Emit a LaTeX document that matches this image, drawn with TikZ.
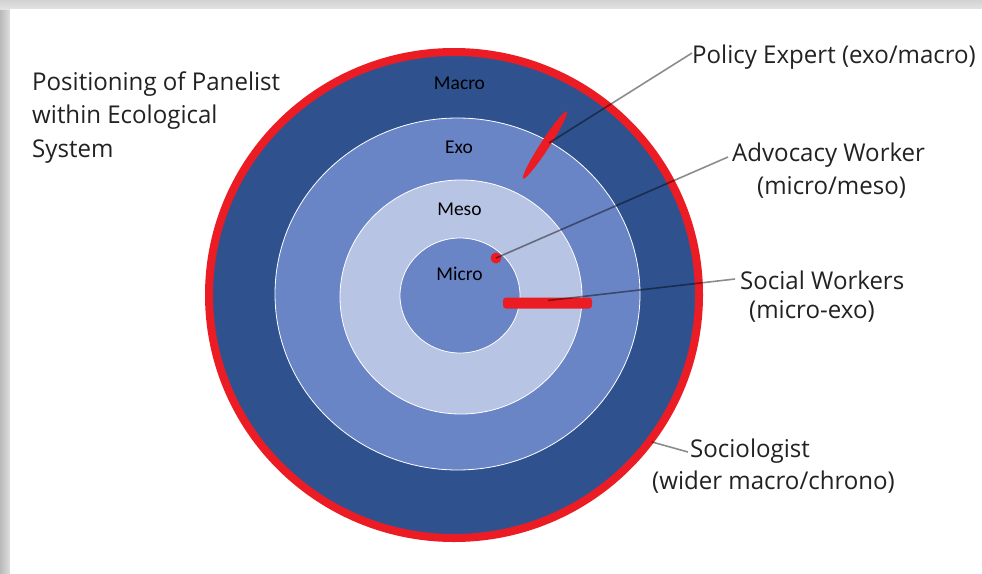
\documentclass[tikz,border=0pt]{standalone}
\usepackage{fontspec}
\newfontfamily\labfont[FakeStretch=0.982]{Open Sans}
\newfontfamily\ringfont{Carlito}
\usetikzlibrary{calc}
\definecolor{macroc}{HTML}{2F528F}
\definecolor{exoc}{HTML}{6A85C6}
\definecolor{mesoc}{HTML}{B8C4E3}
\definecolor{redc}{HTML}{EC1C24}
\definecolor{txtc}{HTML}{222222}
\tikzset{
  lab/.style={font=\labfont\fontsize{24.5}{29}\selectfont, text=txtc, inner sep=0pt, anchor=base west},
  ringlab/.style={font=\ringfont\fontsize{19.5}{22}\selectfont, text=black, inner sep=0pt, anchor=base},
  ring/.style={draw=white, line width=0.8pt},
  conn/.style={draw=black, draw opacity=0.45, line width=1.6pt},
  marker/.style={fill=redc},
}
\begin{document}
\begin{tikzpicture}[x=1pt,y=-1pt]
\useasboundingbox (0,0) rectangle (982,573);
% card with shadow
\shade[left color=gray!55, right color=gray!25] (0,0) rectangle (10,573);
\shade[top color=gray!35, bottom color=gray!22] (0,0) rectangle (982,9);
\fill[white] (10,9) rectangle (982,573);
% rings
\fill[macroc] (454,295) ellipse [x radius=245pt, y radius=243pt];
\draw[redc, line width=8pt] (454,295) ellipse [x radius=245pt, y radius=243pt];
\filldraw[ring, fill=exoc] (457.5,294) ellipse [x radius=182.5pt, y radius=176pt];
\filldraw[ring, fill=mesoc] (461,297) ellipse [x radius=121pt, y radius=117pt];
\filldraw[ring, fill=exoc] (460,295.5) ellipse [x radius=60pt, y radius=57.5pt];
% ring labels
\node[ringlab] (macro) at (459.5,89) {Macro};
\node[ringlab] (exo) at (459,153) {Exo};
\node[ringlab] (meso) at (459.5,215) {Meso};
\node[ringlab] (micro) at (459.5,280) {Micro};
% red markers
\fill[marker, rotate around={57:(545,145)}] (545,145) ellipse [x radius=40pt, y radius=4.5pt];
\fill[marker, rounded corners=3pt] (503,297.5) rectangle (592,308.5);
\fill[marker] (496,258) circle [radius=5.5pt];
\coordinate (pe) at (549,143);
\coordinate (aw) at (496,258);
\coordinate (sw) at (548,300.5);
\coordinate (so) at (652,442);
% title
\node[lab] (t1) at (32,90) {Positioning of Panelist};
\node[lab] (t2) at (32,123.5) {within Ecological};
\node[lab] (t3) at (32,157) {System};
% labels
\node[lab] (pel) at (692,63) {Policy Expert (exo/macro)};
\node[lab] (awl1) at (732,161) {Advocacy Worker};
\node[lab] (awl2) at (757,194) {(micro/meso)};
\node[lab] (swl1) at (740,289) {Social Workers};
\node[lab] (swl2) at (749,318) {(micro-exo)};
\node[lab] (sol1) at (690,457) {Sociologist};
\node[lab] (sol2) at (652,489) {(wider macro/chrono)};
% connectors
\draw[conn] (pe) -- ($(pel.base west)+(0,-10)$);
\draw[conn] (aw) -- ($(awl1.base west)+(-4,-4)$);
\draw[conn] (sw) -- ($(swl1.base west)+(-5,-10)$);
\draw[conn] (so) -- ($(sol1.base west)+(-2,-5)$);
\end{tikzpicture}
\end{document}
